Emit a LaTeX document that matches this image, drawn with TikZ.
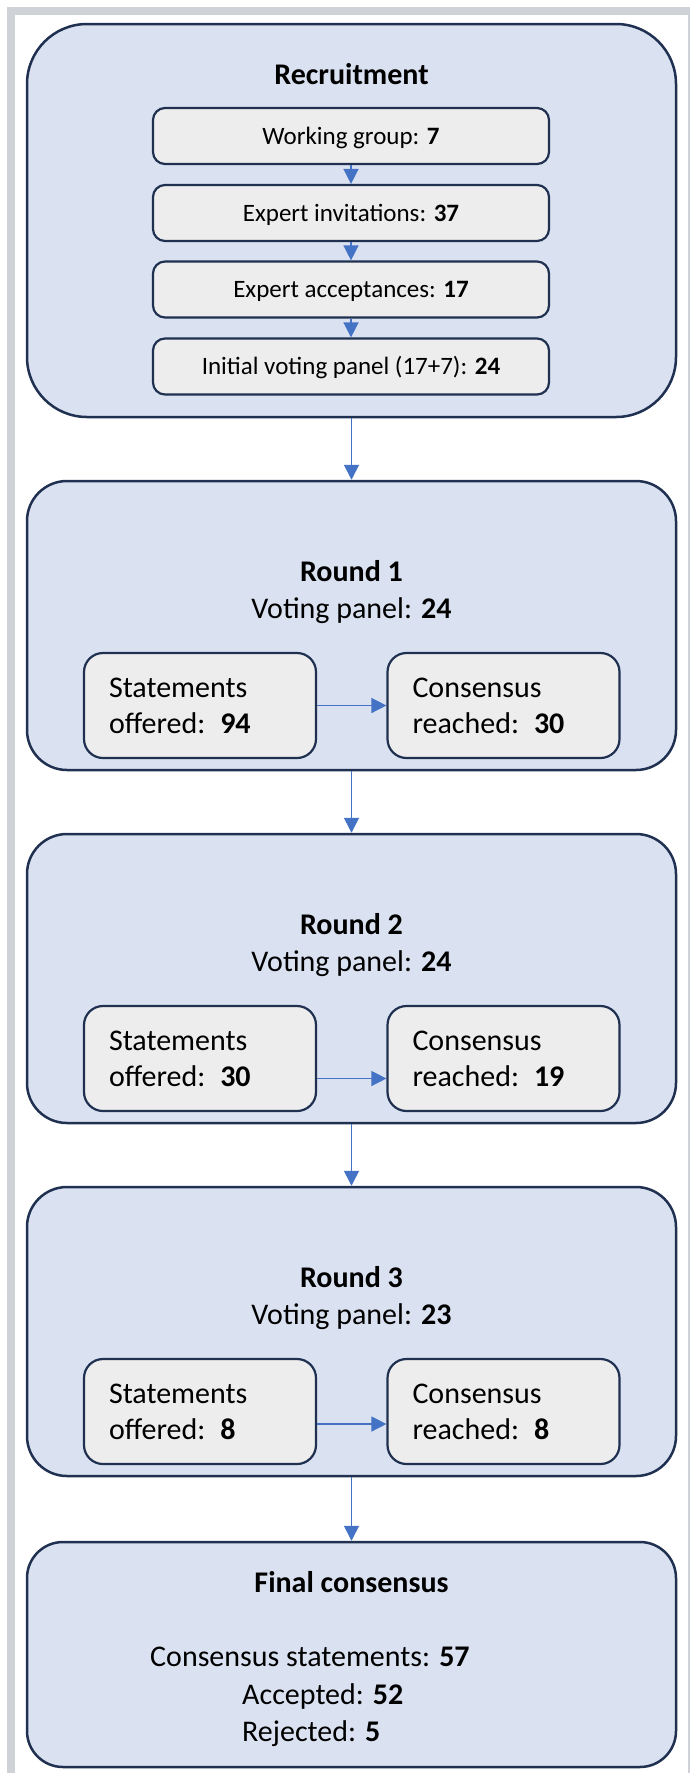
\documentclass[tikz,border=0pt]{standalone}
\usepackage{fontspec}
\setmainfont{Carlito}
\usetikzlibrary{arrows.meta, positioning}
\definecolor{panelblue}{HTML}{DAE1F1}
\definecolor{panelnavy}{HTML}{1F3050}
\definecolor{stepgray}{HTML}{EDEDED}
\definecolor{flowblue}{HTML}{4472C4}
\definecolor{framegray}{HTML}{CFD3D7}

\begin{document}
\begin{tikzpicture}[
    x=1pt, y=-1pt,
    panel/.style={draw=panelnavy, fill=panelblue, line width=2.5pt, minimum width=649pt, inner sep=0pt},
    recbox/.style={draw=panelnavy, fill=stepgray, line width=2.2pt, rounded corners=12pt, minimum width=396pt, minimum height=56pt, inner sep=0pt, text height=16pt, text depth=0pt, font=\fontsize{25}{30}\selectfont},
    votebox/.style={draw=panelnavy, fill=stepgray, line width=2.2pt, rounded corners=19pt, text width=182pt, inner xsep=25pt, inner ysep=0pt, minimum height=105pt, align=left, font=\fontsize{30}{36}\selectfont},
    txt/.style={font=\fontsize{30}{37}\selectfont, inner sep=0pt, text height=19pt, text depth=0pt},
    arrow/.style={-{Triangle[length=15pt, width=15pt]}, line width=1.5pt, draw=flowblue},
]
    \useasboundingbox (0,0) rectangle (690,1773);

    % Frame
    \fill[framegray] (7,7) rectangle (690,1773);
    \fill[white] (15,15) rectangle (688,1773);

    % Panels
    \node[panel, rounded corners=60pt, minimum height=393pt] (recruit) at (351.5,220.5) {};
    \node[panel, rounded corners=40pt, minimum height=289pt] (round1) at (351.5,625.5) {};
    \node[panel, rounded corners=40pt, minimum height=289pt] (round2) at (351.5,978.5) {};
    \node[panel, rounded corners=40pt, minimum height=289pt] (round3) at (351.5,1331.5) {};
    \node[panel, rounded corners=36pt, minimum height=225pt] (final) at (351.5,1654.5) {};

    % Recruitment
    \node[txt] (rectitle) at (351.5,75) {\textbf{Recruitment}};
    \node[recbox] (working) at (351,136) {Working group: \textbf{7}};
    \node[recbox] (invited) at (351,213) {Expert invitations: \textbf{37}};
    \node[recbox] (accepted) at (351,289.5) {Expert acceptances: \textbf{17}};
    \node[recbox] (initial) at (351,366.5) {Initial voting panel (17+7): \textbf{24}};

    % Round 1
    \node[txt] (r1title) at (351.5,572) {\textbf{Round 1}};
    \node[txt] (r1panel) at (351.5,609) {Voting panel: \textbf{24}};
    \node[votebox] (r1offer) at (200,705.5) {Statements\\offered: \textbf{94}};
    \node[votebox] (r1reach) at (503.5,705.5) {Consensus\\reached: \textbf{30}};

    % Round 2
    \node[txt] (r2title) at (351.5,925) {\textbf{Round 2}};
    \node[txt] (r2panel) at (351.5,962) {Voting panel: \textbf{24}};
    \node[votebox] (r2offer) at (200,1058.5) {Statements\\offered: \textbf{30}};
    \node[votebox] (r2reach) at (503.5,1058.5) {Consensus\\reached: \textbf{19}};

    % Round 3
    \node[txt] (r3title) at (351.5,1278) {\textbf{Round 3}};
    \node[txt] (r3panel) at (351.5,1315) {Voting panel: \textbf{23}};
    \node[votebox] (r3offer) at (200,1411.5) {Statements\\offered: \textbf{8}};
    \node[votebox] (r3reach) at (503.5,1411.5) {Consensus\\reached: \textbf{8}};

    % Final consensus
    \node[txt] (fintitle) at (351.5,1583) {\textbf{Final consensus}};
    \node[txt, anchor=west] (finstat) at (150,1657) {Consensus statements: \textbf{57}};
    \node[txt, anchor=west] (finacc) at (242,1695) {Accepted: \textbf{52}};
    \node[txt, anchor=west] (finrej) at (242,1732) {Rejected: \textbf{5}};

    % Arrows
    \draw[arrow] (working) -- (invited);
    \draw[arrow] (invited) -- (accepted);
    \draw[arrow] (accepted) -- (initial);
    \draw[arrow] (recruit) -- (round1);
    \draw[arrow] (r1offer) -- (r1reach);
    \draw[arrow] (round1) -- (round2);
    \draw[arrow] ([yshift=-20pt]r2offer.east) -- ([yshift=-20pt]r2reach.west);
    \draw[arrow] (round2) -- (round3);
    \draw[arrow] ([yshift=-12.5pt]r3offer.east) -- ([yshift=-12.5pt]r3reach.west);
    \draw[arrow] (round3) -- (final);

\end{tikzpicture}
\end{document}
